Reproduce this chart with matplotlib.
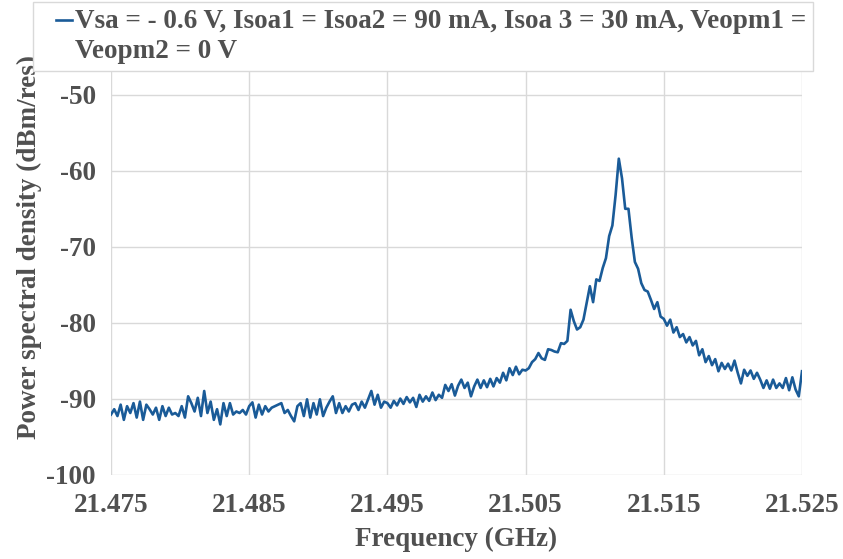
import matplotlib
matplotlib.use("Agg")
import matplotlib.pyplot as plt
from matplotlib.legend_handler import HandlerLine2D
import numpy as np

# Setting ----------------------------------------#
f_start, f_stop = 21.475, 21.525          # [GHz]
xticks = [21.475, 21.485, 21.495, 21.505, 21.515, 21.525]
yticks = [-100, -90, -80, -70, -60, -50]
label = "Vsa = - 0.6 V, Isoa1 = Isoa2 = 90 mA, Isoa 3 = 30 mA, Veopm1 =\nVeopm2 = 0 V"

# trace, one list per 10 MHz span [dBm/res]
psd_a = [-92.1, -91.4, -92.3, -90.8, -92.8, -91.0, -91.9, -90.6, -92.5, -90.4,
         -92.8, -90.8, -91.4, -92.1, -91.2, -92.8, -91.0, -92.3, -91.2, -92.1,
         -91.9, -92.3, -91.0, -92.5, -89.7, -90.6, -91.7, -89.9, -92.3, -89.0,
         -91.9, -90.4, -92.8, -91.4, -93.4, -90.6, -92.3, -90.6, -92.1, -91.7,
         -91.9, -91.5, -92.1]
psd_b = [-91.0, -90.5, -92.5, -90.8, -92.1, -91.0, -91.7, -91.2, -91.0, -90.8,
         -90.6, -91.9, -91.5, -92.3, -93.0, -91.0, -90.6, -92.3, -90.1, -92.5,
         -90.6, -92.1, -90.1, -92.3, -91.2, -90.4, -89.7, -91.9, -90.6, -91.9,
         -91.0, -91.7, -90.8, -90.6, -91.5, -90.4, -91.2, -90.1, -89.0, -90.8,
         -89.5, -91.2, -90.4]
psd_c = [-90.6, -91.2, -90.3, -90.9, -90.0, -90.7, -89.8, -90.5, -89.9, -91.1,
         -89.5, -90.4, -89.7, -90.3, -89.2, -90.2, -89.5, -89.9, -88.2, -89.0,
         -88.1, -89.6, -88.3, -87.5, -88.6, -87.9, -89.7, -88.4, -87.5, -88.6,
         -87.6, -88.5, -87.4, -88.4, -87.3, -87.9, -86.6, -87.6, -86.0, -86.9,
         -85.8, -86.8, -86.2]
psd_d = [-86.3, -86.0, -85.2, -84.8, -84.0, -84.7, -84.9, -83.5, -83.6, -83.8,
         -83.9, -82.7, -82.8, -82.4, -78.3, -79.8, -80.9, -80.6, -79.6, -77.4,
         -75.2, -77.3, -74.3, -74.5, -72.8, -71.5, -68.6, -67.2, -63.2, -58.4,
         -61.0, -65.0, -65.0, -68.8, -72.0, -72.9, -74.8, -75.7, -75.9, -77.0,
         -78.2, -77.3, -79.2]
psd_e = [-79.5, -80.4, -79.6, -81.3, -80.6, -81.9, -81.5, -82.6, -81.9, -83.0,
         -82.4, -84.3, -83.5, -85.2, -84.4, -85.6, -84.8, -86.4, -85.3, -86.1,
         -85.4, -86.3, -85.0, -86.6, -88.0, -86.2, -87.0, -86.3, -87.4, -86.6,
         -87.5, -88.6, -87.6, -88.7, -87.5, -88.6, -88.0, -88.6, -87.3, -88.9,
         -87.2, -88.8, -89.7, -86.4]

psd = np.array(psd_a + psd_b + psd_c + psd_d + psd_e)
freq = np.linspace(f_start, f_stop, len(psd))   # analyzer sweep grid


# short legend line on the first text line, with extra room on its left
class TopLine(HandlerLine2D):
    def create_artists(self, legend, orig_handle, xdescent, ydescent,
                       width, height, fontsize, trans):
        arts = super().create_artists(legend, orig_handle, xdescent, ydescent,
                                      width, height, fontsize, trans)
        x0 = -xdescent + 0.5 * width
        x1 = -xdescent + width
        for a in arts:
            y = np.asarray(a.get_ydata())[0] + 0.62 * fontsize
            a.set_data([x0, x1], [y, y])
        return arts


# Plot ---------------------------------------------#
txt = '#505050'
plt.rcParams['font.family'] = ['Liberation Serif', 'DejaVu Serif']
plt.rcParams['font.weight'] = 'bold'
plt.rcParams['axes.labelweight'] = 'bold'
plt.rcParams['axes.unicode_minus'] = False
plt.rcParams['font.size'] = 19.5

fig = plt.figure(figsize=(8.43, 5.59), dpi=100)
ax = fig.add_axes([111/843, 84.5/559, 691/843, 455.5/559])

line, = ax.plot(freq, psd, color='#1a5b98', lw=1.9, label=label, zorder=3)

ax.set_xlim(f_start, f_stop)
ax.set_ylim(-100, -40)
ax.set_xticks(xticks)
ax.set_xticklabels(['%.3f' % v for v in xticks])
ax.set_yticks(yticks)
ax.set_yticks([-40], minor=True)
ax.grid(True, which='both', color='#d9d9d9', lw=1)
for s in ax.spines.values():
    s.set_visible(False)
ax.tick_params(axis='both', which='both', length=0, colors=txt)
ax.tick_params(axis='x', pad=13)
ax.tick_params(axis='y', pad=11)

ax.set_xlabel('Frequency (GHz)', color=txt, labelpad=7)
ax.set_ylabel('Power spectral density (dBm/res)', color=txt, labelpad=3)

leg = ax.legend(loc='upper left', bbox_to_anchor=(33/843, 1 - 2/559),
                bbox_transform=fig.transFigure, borderaxespad=0,
                handlelength=1.2, handletextpad=0.1, borderpad=0.25,
                fancybox=False, framealpha=1, edgecolor='#d9d9d9',
                labelcolor=txt, handler_map={line: TopLine()})
leg.get_frame().set_linewidth(1)
leg.get_texts()[0].set_linespacing(1.3)
leg.set_zorder(10)

fig.savefig('out.png', dpi=100)
